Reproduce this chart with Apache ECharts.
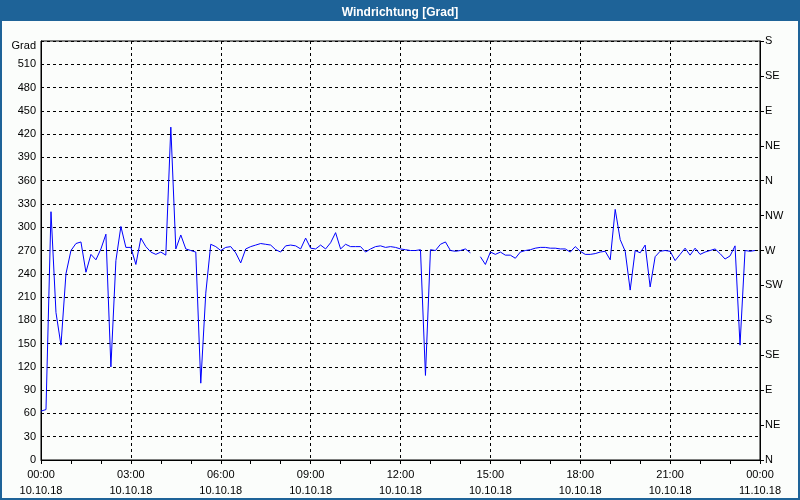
<!DOCTYPE html>
<html>
<head>
<meta charset="utf-8">
<script src="https://cdn.jsdelivr.net/npm/echarts@6/dist/echarts.min.js"></script>
<style>
html,body{margin:0;padding:0;background:#FBFDFB;}
#chart{width:800px;height:500px;}
</style>
</head>
<body>
<div id="chart"></div>
<script>
// Wind direction in degrees, one reading every 10 minutes from 00:00 (null = missing)
var stepMinutes = 10;
var windDirection = [
  63, 65, 320, 190, 148, 240, 270, 279, 281, 242,
  265, 258, 272, 291, 120, 257, 301, 274, 274, 252,
  286, 275, 268, 265, 268, 264, 429, 272, 290, 272,
  270, 268, 99, 215, 278, 275, 270, 274, 275, 267,
  254, 272, 275, 277, 279, 278, 277, 271, 268, 276,
  277, 276, 272, 286, 273, 272, 277, 272, 280, 293,
  272, 278, 275, 275, 275, 268, 272, 275, 276, 274,
  275, 274, 272, 271, 270, 270, 271, 109, 271, 270,
  278, 281, 270, 269, 270, 272, 267, null, 262, 252,
  268, 265, 268, 264, 264, 260, 268, 270, 271, 273,
  274, 274, 273, 273, 272, 272, 268, 275, 269, 265,
  265, 266, 268, 269, 258, 323, 284, 269, 219, 270,
  267, 277, 223, 262, 269, 270, 269, 257, 265, 273,
  264, 273, 265, 268, 270, 272, 266, 259, 263, 276,
  148, 270, 269, 270
];
var xTickLabels = [
  "00:00\n10.10.18", "03:00\n10.10.18", "06:00\n10.10.18", "09:00\n10.10.18",
  "12:00\n10.10.18", "15:00\n10.10.18", "18:00\n10.10.18", "21:00\n10.10.18",
  "00:00\n11.10.18"
];
var compassLabels = ["N","NE","E","SE","S","SW","W","NW","N","NE","E","SE","S"];
var chartTitle = "Windrichtung [Grad]";
var yUnit = "Grad";

var seriesData = windDirection.map(function (v, i) { return [i * stepMinutes, v]; });

var font = "Liberation Sans";
var chart = echarts.init(document.getElementById('chart'), null, {renderer: 'canvas'});
chart.setOption({
  animation: false,
  backgroundColor: '#FBFDFB',
  textStyle: {fontFamily: font},
  graphic: [
    {type: 'rect', z: -1, shape: {x: 0, y: 0, width: 800, height: 21}, style: {fill: '#1E6398'}},
    {type: 'rect', z: 100, shape: {x: 1, y: 1, width: 798, height: 498}, style: {fill: null, stroke: '#1E6398', lineWidth: 2}}
  ],
  title: {
    text: chartTitle, left: 'center', top: 2,
    textStyle: {color: '#ffffff', fontSize: 12, fontWeight: 'bold', fontFamily: font}
  },
  grid: {left: 41, right: 40, top: 41, bottom: 40, show: true, borderColor: '#000', borderWidth: 1, backgroundColor: 'transparent'},
  xAxis: {
    type: 'value', min: 0, max: 1440, interval: 180,
    axisLine: {lineStyle: {color: '#000', width: 1}},
    axisTick: {show: true, length: 4, lineStyle: {color: '#000'}},
    minorTick: {show: true, splitNumber: 3, length: 4, lineStyle: {color: '#000'}},
    splitLine: {show: true, lineStyle: {color: '#000', type: [3, 3], width: 1}},
    axisLabel: {
      color: '#000', fontSize: 11, fontFamily: font, margin: 7, lineHeight: 16,
      formatter: function (v) { return xTickLabels[Math.round(v / 180)]; }
    }
  },
  yAxis: [
    {
      type: 'value', min: 0, max: 540, interval: 30, position: 'left',
      name: yUnit, nameLocation: 'end', nameGap: -5,
      nameTextStyle: {color: '#000', fontSize: 11, fontFamily: font, align: 'right', verticalAlign: 'middle', padding: [0, 5, 0, 0]},
      axisLine: {show: true, lineStyle: {color: '#000'}},
      axisTick: {show: false},
      splitLine: {show: true, lineStyle: {color: '#000', type: [3, 3], width: 1}},
      axisLabel: {color: '#000', fontSize: 11, fontFamily: font, margin: 5, showMaxLabel: false}
    },
    {
      type: 'value', min: 0, max: 540, interval: 45, position: 'right',
      axisLine: {show: true, lineStyle: {color: '#000'}},
      axisTick: {show: true, length: 4, inside: false, lineStyle: {color: '#000'}},
      splitLine: {show: false},
      axisLabel: {
        color: '#000', fontSize: 11, fontFamily: font, margin: 5,
        formatter: function (v) { return compassLabels[Math.round(v / 45)]; }
      }
    }
  ],
  series: [{
    type: 'line', data: seriesData, yAxisIndex: 0,
    symbol: 'none', connectNulls: false,
    lineStyle: {color: '#0000FF', width: 1},
    z: 5
  }]
});
</script>
</body>
</html>
